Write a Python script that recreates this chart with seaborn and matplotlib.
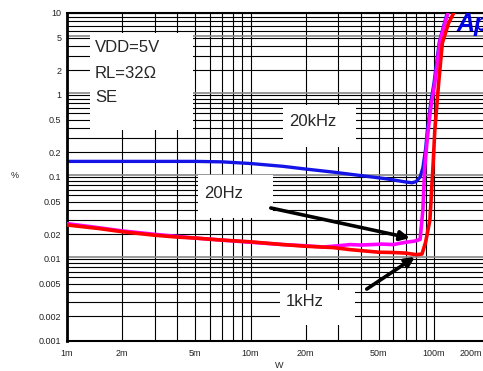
import numpy as np
import pandas as pd
import matplotlib
matplotlib.use("Agg")
import matplotlib.pyplot as plt
import seaborn as sns
from matplotlib.patches import Rectangle
from matplotlib.ticker import FixedLocator, FixedFormatter, NullFormatter
from matplotlib.transforms import ScaledTranslation

# ---------------- data (W, %) ----------------
blue_x = [0.001, 0.002, 0.003, 0.005, 0.007, 0.010, 0.015, 0.020, 0.028, 0.035, 0.046, 0.055,
          0.062, 0.070, 0.076, 0.080, 0.084, 0.087, 0.090, 0.092, 0.096, 0.100, 0.107, 0.118]
blue_y = [0.155, 0.155, 0.155, 0.155, 0.153, 0.146, 0.135, 0.125, 0.115, 0.108, 0.100, 0.095,
          0.091, 0.087, 0.085, 0.088, 0.100, 0.130, 0.220, 0.370, 0.800, 1.400, 4.500, 10.0]

mag_x = [0.001, 0.0015, 0.002, 0.003, 0.005, 0.007, 0.010, 0.015, 0.020, 0.025, 0.030, 0.035,
         0.040, 0.046, 0.052, 0.060, 0.070, 0.078, 0.084, 0.087, 0.089, 0.092, 0.096, 0.101,
         0.108, 0.119]
mag_y = [0.027, 0.024, 0.022, 0.020, 0.018, 0.017, 0.016, 0.015, 0.0145, 0.014, 0.0145, 0.015,
         0.0148, 0.015, 0.0152, 0.015, 0.016, 0.0165, 0.0173, 0.040, 0.130, 0.300, 0.700, 1.400,
         4.700, 10.0]

red_x = [0.001, 0.0015, 0.002, 0.003, 0.004, 0.005, 0.007, 0.010, 0.015, 0.020, 0.028, 0.035,
         0.050, 0.060, 0.070, 0.080, 0.086, 0.090, 0.095, 0.099, 0.101, 0.106, 0.111, 0.120, 0.128]
red_y = [0.026, 0.0235, 0.0215, 0.0195, 0.0185, 0.018, 0.017, 0.0162, 0.015, 0.0143, 0.0138, 0.013,
         0.0121, 0.012, 0.0118, 0.0113, 0.0115, 0.016, 0.030, 0.150, 0.370, 1.400, 4.300, 7.500, 10.0]

x_ticks = [0.001, 0.002, 0.005, 0.01, 0.02, 0.05, 0.1, 0.2]
x_labels = ["1m", "2m", "5m", "10m", "20m", "50m", "100m", "200m"]
y_ticks = [0.001, 0.002, 0.005, 0.01, 0.02, 0.05, 0.1, 0.2, 0.5, 1, 2, 5, 10]
y_labels = ["0.001", "0.002", "0.005", "0.01", "0.02", "0.05", "0.1", "0.2", "0.5", "1", "2", "5", "10"]

# ---------------- figure ----------------
sns.set_style("white")
plt.rcParams["font.family"] = ["Liberation Sans", "DejaVu Sans"]

W, H = 483, 371
fig = plt.figure(figsize=(W / 100, H / 100), dpi=100)
x0, x100 = 67, 434
dec = (x100 - x0) / 2.0
ax = fig.add_axes([x0 / W, (H - 341) / H, dec * np.log10(200) / W, 328 / H])
ax.set_axisbelow(True)

def pxrect(a, b, c, d):
    r = Rectangle((a / W, 1 - d / H), (c - a) / W, (d - b) / H, transform=fig.transFigure,
                  facecolor="white", edgecolor="none", zorder=1)
    ax.add_patch(r)

df_b = pd.DataFrame({"x": blue_x, "y": blue_y})
df_m = pd.DataFrame({"x": mag_x, "y": mag_y})
df_r = pd.DataFrame({"x": red_x, "y": red_y})
sns.lineplot(data=df_b, x="x", y="y", ax=ax, color="#1414E6", lw=2.4, estimator=None, sort=False, zorder=2)
sns.lineplot(data=df_m, x="x", y="y", ax=ax, color="#FF00FF", lw=2.6, estimator=None, sort=False, zorder=3)
sns.lineplot(data=df_r, x="x", y="y", ax=ax, color="#FF0000", lw=2.6, estimator=None, sort=False, zorder=4)

ax.set_xscale("log")
ax.set_yscale("log")
ax.set_xlim(0.001, 0.2)
ax.set_ylim(0.001, 10)

ax.xaxis.set_major_locator(FixedLocator(x_ticks))
ax.xaxis.set_major_formatter(FixedFormatter(x_labels))
ax.yaxis.set_major_locator(FixedLocator(y_ticks))
ax.yaxis.set_major_formatter(FixedFormatter(y_labels))
xminor = [k * 10.0 ** d for d in (-3, -2) for k in (3, 4, 6, 7, 8, 9)]
yminor = [k * 10.0 ** d for d in (-3, -2, -1, 0) for k in (3, 4, 6, 7, 8, 9)]
ax.xaxis.set_minor_locator(FixedLocator(xminor))
ax.yaxis.set_minor_locator(FixedLocator(yminor))
ax.xaxis.set_minor_formatter(NullFormatter())
ax.yaxis.set_minor_formatter(NullFormatter())

ax.grid(True, which="both", color="black", lw=0.8)
for yv in (0.01, 0.1, 1, 5):
    ax.axhline(yv * 1.06, color="#888888", lw=1.2, zorder=0.6)
ax.tick_params(which="both", length=0, labelsize=6.5, colors="#222222")
ax.tick_params(axis="y", pad=4)
ax.tick_params(axis="x", pad=6)
for lab in ax.get_xticklabels():
    if lab.get_text() == "200m":
        lab.set_transform(lab.get_transform() + ScaledTranslation(-18 / 100, 0, fig.dpi_scale_trans))

ax.spines["left"].set_linewidth(2.0)
ax.spines["bottom"].set_linewidth(1.5)
ax.spines["top"].set_linewidth(1.5)
ax.spines["right"].set_visible(False)
for s in ax.spines.values():
    s.set_color("black")

ax.set_xlabel("")
ax.set_ylabel("")
fig.text(15 / W, 1 - 175 / H, "%", fontsize=6.5, ha="center", va="center", color="#222222")
fig.text(279 / W, 1 - 366 / H, "W", fontsize=6.5, ha="center", va="center", color="#222222")

# white label boxes
pxrect(90, 33, 193, 130)
pxrect(283, 105, 356, 147)
pxrect(198, 175, 273, 218)
pxrect(280, 290, 355, 325)

fs = 12
fig.text(95 / W, 1 - 48 / H, "VDD=5V", fontsize=fs, va="center", ha="left")
fig.text(95 / W, 1 - 73 / H, "RL=32Ω", fontsize=fs, va="center", ha="left")
fig.text(95 / W, 1 - 97 / H, "SE", fontsize=fs, va="center", ha="left")
fig.text(313 / W, 1 - 121 / H, "20kHz", fontsize=fs, va="center", ha="center")
fig.text(224 / W, 1 - 194 / H, "20Hz", fontsize=fs, va="center", ha="center")
fig.text(305 / W, 1 - 302 / H, "1kHz", fontsize=fs, va="center", ha="center")

# arrows
ax.annotate("", xy=(0.0739, 0.018), xytext=(0.0129, 0.0419),
            arrowprops=dict(arrowstyle="-|>", lw=2.6, color="black", mutation_scale=14, shrinkA=0, shrinkB=0),
            zorder=5)
ax.annotate("", xy=(0.0787, 0.01058), xytext=(0.043, 0.0043),
            arrowprops=dict(arrowstyle="-|>", lw=2.6, color="black", mutation_scale=14, shrinkA=0, shrinkB=0),
            zorder=5)

# logo (cut at the right edge, as in the reference)
fig.text(457 / W, 1 - 24 / H, "Ap", fontsize=18, fontweight="bold", fontstyle="italic",
         color="#0000E6", va="center", ha="left")

fig.savefig("out.png", dpi=100)
